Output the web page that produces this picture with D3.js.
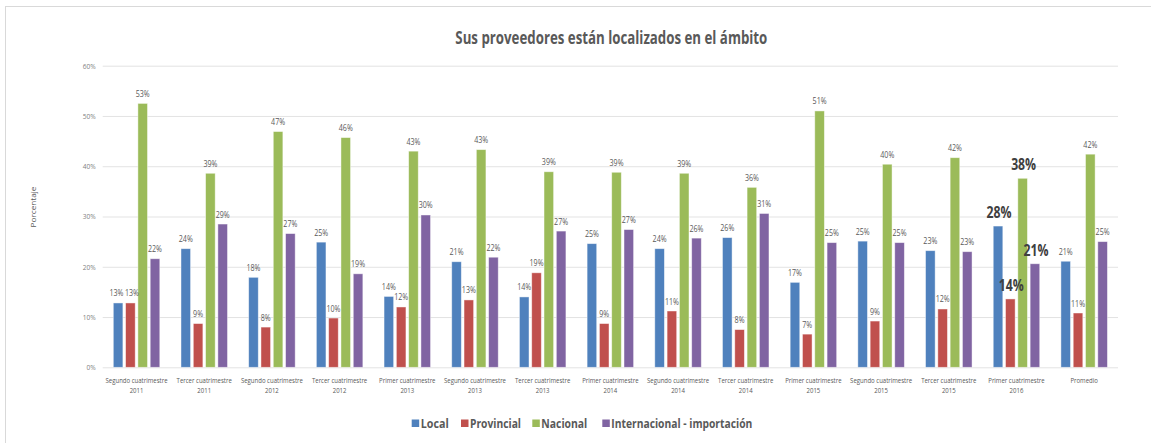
<!DOCTYPE html>
<html>
<head>
<meta charset="utf-8">
<script src="https://cdn.jsdelivr.net/npm/d3@7"></script>
<style>
  html, body { margin: 0; padding: 0; background: #ffffff; }
  svg { display: block; }
</style>
</head>
<body>
<svg id="chart" width="1151" height="443"></svg>
<script>
// ---------- DATA ----------
const categories = [
  ["Segundo cuatrimestre", "2011"],
  ["Tercer cuatrimestre", "2011"],
  ["Segundo cuatrimestre", "2012"],
  ["Tercer cuatrimestre", "2012"],
  ["Primer cuatrimestre", "2013"],
  ["Segundo cuatrimestre", "2013"],
  ["Tercer cuatrimestre", "2013"],
  ["Primer cuatrimestre", "2014"],
  ["Segundo cuatrimestre", "2014"],
  ["Tercer cuatrimestre", "2014"],
  ["Primer cuatrimestre", "2015"],
  ["Segundo cuatrimestre", "2015"],
  ["Tercer cuatrimestre", "2015"],
  ["Primer cuatrimestre", "2016"],
  ["Promedio", ""]
];
const seriesNames = ["Local", "Provincial", "Nacional", "Internacional - importación"];
const local         = [12.8, 23.6, 17.9, 24.9, 14.1, 21.0, 14.0, 24.6, 23.6, 25.8, 16.9, 25.1, 23.2, 28.1, 21.1];
const provincial    = [12.8, 8.7, 8.0, 9.8, 12.0, 13.4, 18.8, 8.7, 11.2, 7.5, 6.6, 9.2, 11.6, 13.6, 10.8];
const nacional      = [52.5, 38.6, 46.9, 45.7, 43.0, 43.3, 38.9, 38.8, 38.6, 35.8, 51.0, 40.4, 41.7, 37.6, 42.4];
const internacional = [21.6, 28.5, 26.6, 18.6, 30.3, 21.9, 27.1, 27.4, 25.7, 30.6, 24.8, 24.8, 23.0, 20.6, 25.0];
const yTicks = [0, 10, 20, 30, 40, 50, 60];
const highlightIndex = 13; // "Primer cuatrimestre 2016" labels shown large & bold
const colors = ["#4F81BD", "#C0504D", "#9BBB59", "#8064A2"];
const title = "Sus proveedores están localizados en el ámbito";
const yTitle = "Porcentaje";

// ---------- LAYOUT ----------
const svg = d3.select("#chart");
const FONT = "'Liberation Sans Narrow', 'Open Sans', 'Liberation Sans', sans-serif";
const plot = { left: 102.7, right: 1118, top: 65.7, bottom: 367.3 };

const seriesValues = [local, provincial, nacional, internacional];
const catKeys = categories.map((c, i) => i);

const x0 = d3.scaleBand().domain(catKeys).range([plot.left, plot.right]).padding(0);
const x1 = d3.scaleBand().domain(d3.range(seriesNames.length)).range([10.6, 57.1]).paddingInner(0.22).paddingOuter(0);
const y = d3.scaleLinear().domain([0, 60]).range([plot.bottom, plot.top]);

function condense(sel, refWidthNatural, target) {
  const k = target / refWidthNatural;
  sel.each(function () {
    const w = this.getComputedTextLength();
    if (w > 0) {
      d3.select(this).attr("textLength", w * k).attr("lengthAdjust", "spacingAndGlyphs");
    }
  });
}
function measure(text, size, weight) {
  const t = svg.append("text").attr("font-family", FONT).attr("font-size", size)
    .attr("font-weight", weight || "normal").text(text);
  const w = t.node().getComputedTextLength();
  t.remove();
  return w;
}

// outer border
svg.append("rect").attr("x", 5.5).attr("y", 6.5).attr("width", 1200).attr("height", 500)
  .attr("fill", "none").attr("stroke", "#d9d9d9").attr("stroke-width", 1);

// title
const titleT = svg.append("text")
  .attr("x", (plot.left + plot.right) / 2 + 1).attr("y", 44)
  .attr("text-anchor", "middle").attr("font-family", FONT)
  .attr("font-size", 17).attr("font-weight", "bold").attr("fill", "#595959")
  .text(title);
condense(titleT, measure(title, 17, "bold"), 312);

// gridlines + y ticks
const yAxis = d3.axisLeft(y).tickValues(yTicks).tickSize(-(plot.right - plot.left)).tickPadding(7)
  .tickFormat(d => d + "%");
const gy = svg.append("g").attr("transform", `translate(${plot.left},0)`).call(yAxis);
gy.select(".domain").remove();
gy.selectAll(".tick line").attr("stroke", "#e3e3e3").attr("stroke-width", 1);
gy.selectAll(".tick text").attr("font-family", FONT).attr("font-size", 7.5).attr("fill", "#7f7f7f");
condense(gy.selectAll(".tick text"), measure("60%", 7.5), 13);

// y title
svg.append("text")
  .attr("transform", `translate(36,207) rotate(-90)`)
  .attr("text-anchor", "middle").attr("font-family", FONT).attr("font-size", 7.5)
  .attr("fill", "#595959").text(yTitle)
  .call(s => condense(s, measure(yTitle, 7.5), 41));

// bars
const groups = svg.append("g").selectAll("g").data(catKeys).join("g")
  .attr("transform", d => `translate(${x0(d)},0)`);

groups.selectAll("rect")
  .data(ci => seriesValues.map((vals, si) => ({ si, v: vals[ci] })))
  .join("rect")
  .attr("x", d => x1(d.si))
  .attr("y", d => y(d.v))
  .attr("width", x1.bandwidth())
  .attr("height", d => y(0) - y(d.v))
  .attr("fill", d => colors[d.si])
  .attr("stroke", "#ffffff").attr("stroke-opacity", 0.55).attr("stroke-width", 0.8);

// data labels
const smallRef = measure("53%", 9);
const boldRef = measure("28%", 16, "bold");
groups.each(function (ci) {
  const g = d3.select(this);
  const hl = ci === highlightIndex;
  const labels = seriesValues.map((vals, si) => {
    const v = vals[ci];
    const t = g.append("text")
      .attr("x", x1(si) + x1.bandwidth() / 2 + (hl ? 1 : 0))
      .attr("y", y(v) - (hl ? 8 : 6.5))
      .attr("text-anchor", "middle")
      .attr("font-family", FONT)
      .attr("font-size", hl ? 16 : 9)
      .attr("font-weight", hl ? "bold" : "normal")
      .attr("fill", hl ? "#404040" : "#595959")
      .text(Math.round(v) + "%");
    condense(t, hl ? boldRef : smallRef, hl ? 25 : 14);
    return { t, v };
  });
  // nudge apart adjacent labels sitting at nearly the same height
  for (let i = 0; i < labels.length - 1; i++) {
    const a = labels[i], b = labels[i + 1];
    if (Math.abs(y(a.v) - y(b.v)) < 8) {
      const ax = +a.t.attr("x"), bx = +b.t.attr("x");
      const need = 15.5 - (bx - ax);
      if (need > 0) {
        a.t.attr("x", ax - need / 2);
        b.t.attr("x", bx + need / 2);
      }
    }
  }
});

// x labels
const xl = svg.append("g");
const segRef = measure("Segundo cuatrimestre", 7.5);
categories.forEach((c, i) => {
  const cx = x0(i) + x0.bandwidth() / 2;
  c.forEach((line, li) => {
    if (!line) return;
    const t = xl.append("text").attr("x", cx).attr("y", 382.5 + li * 10.5)
      .attr("text-anchor", "middle").attr("font-family", FONT).attr("font-size", 7.5)
      .attr("fill", "#595959").text(line);
    condense(t, segRef, 62);
  });
});

// legend
const legendMarkX = [411.7, 461, 532.3, 602.3];
const legendWidths = [28, 51, 46, 141];
const lg = svg.append("g");
seriesNames.forEach((name, i) => {
  lg.append("rect").attr("x", legendMarkX[i]).attr("y", 419.5).attr("width", 7.5).attr("height", 7.5)
    .attr("fill", colors[i]);
  lg.append("text").attr("x", legendMarkX[i] + 9).attr("y", 428)
    .attr("font-family", FONT).attr("font-size", 12.5).attr("font-weight", "bold")
    .attr("fill", "#595959").text(name)
    .attr("textLength", legendWidths[i]).attr("lengthAdjust", "spacingAndGlyphs");
});
</script>
</body>
</html>
